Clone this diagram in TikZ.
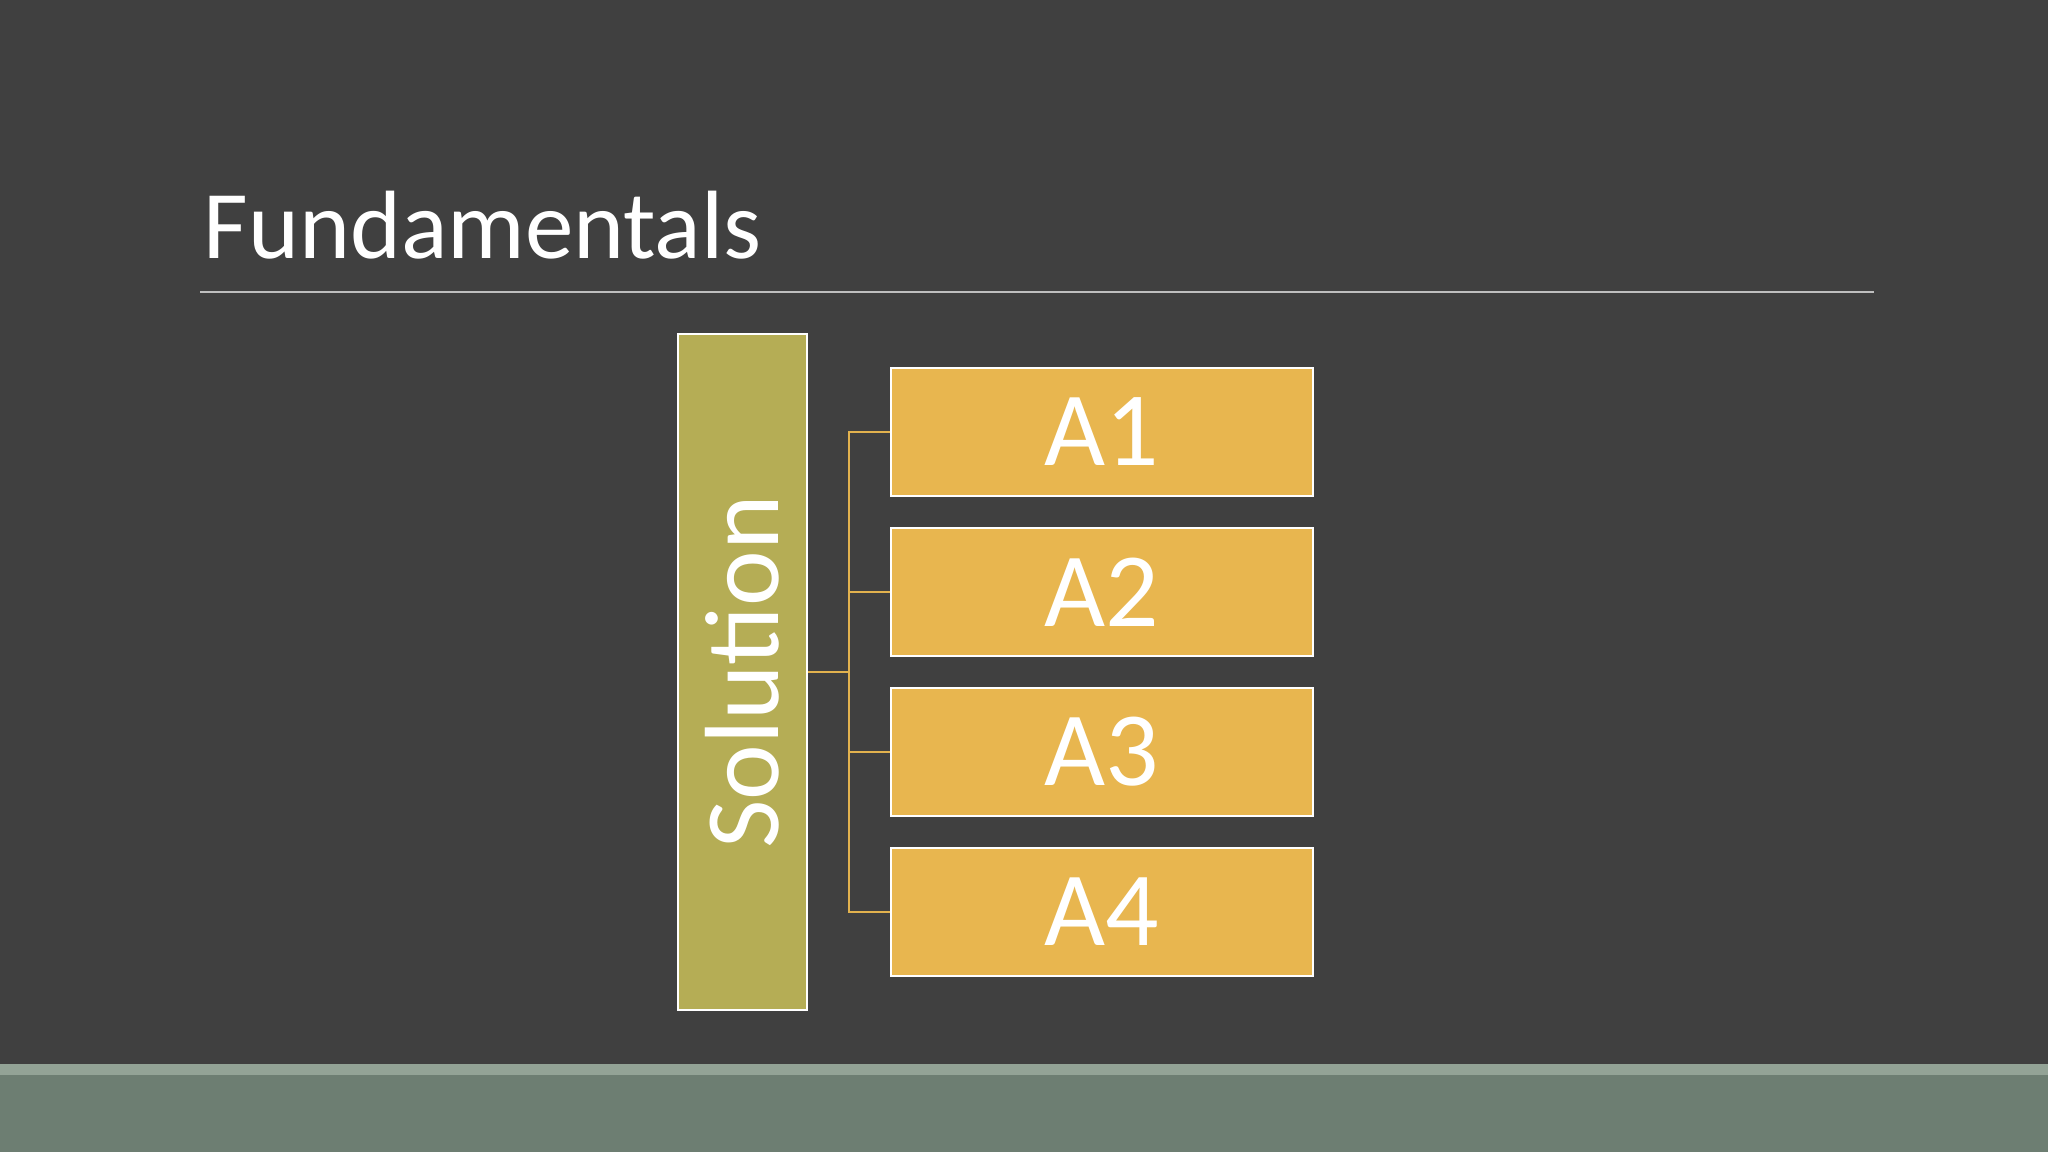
\documentclass[tikz,border=0pt]{standalone}
\usepackage{fontspec}
\setmainfont{Carlito}
\usetikzlibrary{positioning,calc}
\definecolor{slidebg}{HTML}{404040}
\definecolor{solfill}{HTML}{B5AD55}
\definecolor{itemfill}{HTML}{E8B64F}
\definecolor{connclr}{HTML}{E2B24E}
\definecolor{bandlight}{HTML}{93A396}
\definecolor{banddark}{HTML}{6D7E72}
\tikzset{
    box/.style={draw=white, line width=0.6pt, inner sep=0pt, text=white},
    solbox/.style={box, fill=solfill, minimum width=1.29cm, minimum height=6.76cm},
    itembox/.style={box, fill=itemfill, minimum width=4.22cm, minimum height=1.28cm,
        font=\fontsize{30}{36}\selectfont},
    conn/.style={draw=connclr, line width=0.5pt}
}

\begin{document}
\begin{tikzpicture}[x=0.01cm, y=0.01cm]
    % slide background and footer band
    \fill[slidebg] (0,0) rectangle (2048,1152);
    \fill[banddark] (0,0) rectangle (2048,77);
    \fill[bandlight] (0,77) rectangle (2048,88);

    % title
    \node[anchor=base west, inner sep=0pt, text=white, font=\fontsize{27.6}{33}\selectfont] (title) at (203,893) {Fundamentals};
    \coordinate (rule-l) at (200,860);
    \coordinate (rule-r) at (1874,860);
    \draw[color=black!25, line width=0.5pt] (rule-l) -- (rule-r);

    % diagram
    \node[solbox] (sol) at (742.5,480) {};
    \node[rotate=90, text=white, font=\fontsize{30}{36}\selectfont] (sol-text) at (sol.center) {Solution};
    \foreach[count=\i] \ai/\ay in {A1/720,A2/560,A3/400,A4/240} {
        \node[itembox] (a-\i) at (1102,\ay) {\ai};
    }
    \coordinate (trunk) at ($(sol.east)!0.5!(sol.east -| a-1.west)$);
    \foreach \i in {1,...,4} {
        \draw[conn] (sol.east) -- (trunk) |- (a-\i.west);
    }
\end{tikzpicture}
\end{document}
